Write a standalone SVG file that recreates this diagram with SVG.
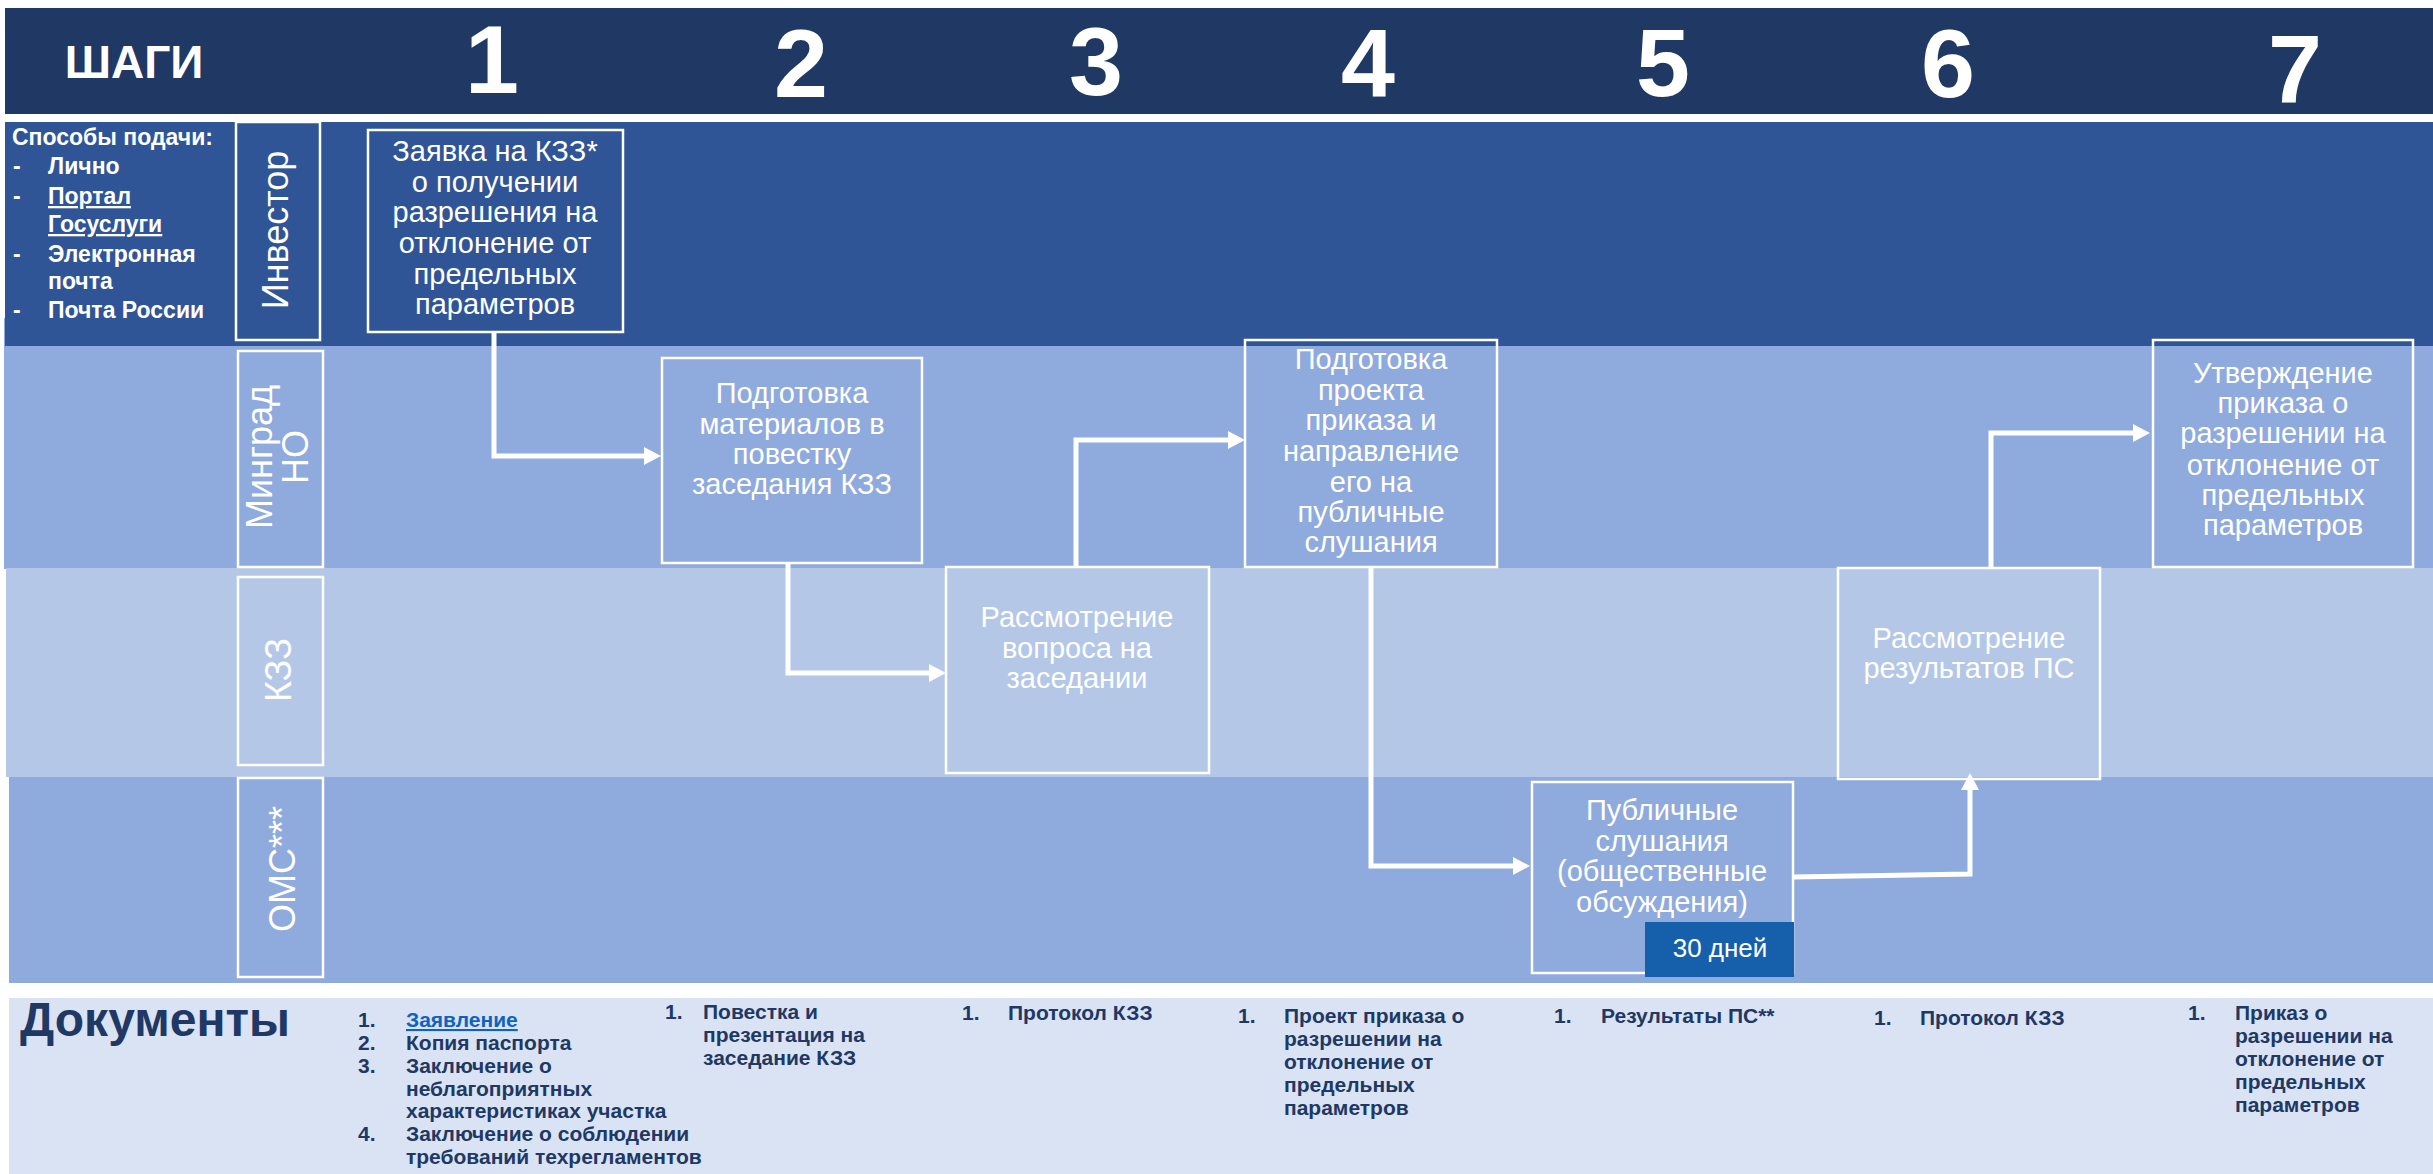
<svg xmlns="http://www.w3.org/2000/svg" width="2433" height="1174" viewBox="0 0 2433 1174">
  <defs>
    <style>
      .lane-inv { fill: #2F5597; }
      .lane-mid { fill: #8FAADC; }
      .lane-light { fill: #B4C7E7; }
      .hdr { fill: #203864; }
      .docs { fill: #DAE3F3; }
      .node { fill: none; stroke: #FFFFFF; stroke-width: 2.5; }
      .lbl { fill: none; stroke: #FFFFFF; stroke-width: 2.5; }
      .nt { font-family: "Liberation Sans", Arial, sans-serif; font-size: 29px; fill: #FFFFFF; text-anchor: middle; }
      .lt { font-family: "Liberation Sans", Arial, sans-serif; font-size: 36px; fill: #FFFFFF; text-anchor: middle; }
      .st { font-family: "Liberation Sans", Arial, sans-serif; font-size: 97px; font-weight: bold; fill: #FFFFFF; text-anchor: middle; }
      .wt { font-family: "Liberation Sans", Arial, sans-serif; font-size: 23px; font-weight: bold; fill: #FFFFFF; }
      .dt { font-family: "Liberation Sans", Arial, sans-serif; font-size: 21px; font-weight: bold; fill: #203864; }
      .link { fill: #0F63C0; text-decoration: underline; }
      .conn { fill: none; stroke: #FFFFFF; stroke-width: 5; marker-end: url(#arr); }
    </style>
    <marker id="arr" viewBox="0 0 17 18" refX="0" refY="9" markerWidth="17" markerHeight="18" markerUnits="userSpaceOnUse" orient="auto">
      <path d="M0,0 L17,9 L0,18 Z" fill="#FFFFFF"/>
    </marker>
  </defs>

  <rect width="2433" height="1174" fill="#FFFFFF"/>

  <!-- header -->
  <g id="header">
    <rect class="hdr" x="5" y="8" width="2428" height="106"/>
    <text x="134" y="78" font-family="Liberation Sans, Arial, sans-serif" font-size="46" font-weight="bold" fill="#FFFFFF" text-anchor="middle">ШАГИ</text>
    <text class="st" x="492" y="93">1</text>
    <text class="st" x="801" y="97">2</text>
    <text class="st" x="1096" y="95">3</text>
    <text class="st" x="1368" y="97">4</text>
    <text class="st" x="1663" y="96">5</text>
    <text class="st" x="1948" y="97">6</text>
    <text class="st" x="2295" y="103">7</text>
  </g>

  <!-- lanes -->
  <g id="lanes">
    <rect class="lane-mid" x="4" y="318" width="2429" height="251"/>
    <rect class="lane-inv" x="5" y="122" width="2428" height="224"/>
    <rect class="lane-light" x="6" y="568" width="2427" height="209"/>
    <rect class="lane-mid" x="9" y="777" width="2424" height="206"/>
    <rect class="docs" x="9" y="998" width="2424" height="176"/>
  </g>

  <!-- submission methods -->
  <g id="submission">
    <text class="wt" x="12" y="145">Способы подачи:</text>
    <text class="wt" x="13" y="174">-</text><text class="wt" x="48" y="174">Лично</text>
    <text class="wt" x="13" y="204">-</text><text class="wt" x="48" y="204" text-decoration="underline">Портал</text>
    <text class="wt" x="48" y="232" text-decoration="underline">Госуслуги</text>
    <text class="wt" x="13" y="262">-</text><text class="wt" x="48" y="262">Электронная</text>
    <text class="wt" x="48" y="289">почта</text>
    <text class="wt" x="13" y="318">-</text><text class="wt" x="48" y="318">Почта России</text>
  </g>

  <!-- lane labels -->
  <g id="label-investor">
    <rect class="lbl" x="236" y="122" width="84" height="218"/>
    <text class="lt" x="288" y="230" transform="rotate(-90 288 230)">Инвестор</text>
  </g>
  <g id="label-mingrad">
    <rect class="lbl" x="238" y="351" width="85" height="216"/>
    <text class="lt" x="272" y="457" transform="rotate(-90 272 457)">Минград</text>
    <text class="lt" x="308" y="457" transform="rotate(-90 308 457)">НО</text>
  </g>
  <g id="label-kzz">
    <rect class="lbl" x="238" y="577" width="85" height="188"/>
    <text class="lt" x="291" y="670" transform="rotate(-90 291 670)">КЗЗ</text>
  </g>
  <g id="label-omc">
    <rect class="lbl" x="238" y="778" width="85" height="199"/>
    <text class="lt" x="295" y="869" transform="rotate(-90 295 869)">ОМС***</text>
  </g>

  <!-- nodes -->
  <g id="node-1">
    <rect class="node" x="368" y="130" width="255" height="202"/>
    <text class="nt" x="495" y="161">Заявка на КЗЗ*</text>
    <text class="nt" x="495" y="192">о получении</text>
    <text class="nt" x="495" y="222">разрешения на</text>
    <text class="nt" x="495" y="253">отклонение от</text>
    <text class="nt" x="495" y="284">предельных</text>
    <text class="nt" x="495" y="314">параметров</text>
  </g>
  <g id="node-2">
    <rect class="node" x="662" y="358" width="260" height="205"/>
    <text class="nt" x="792" y="403">Подготовка</text>
    <text class="nt" x="792" y="434">материалов в</text>
    <text class="nt" x="792" y="464">повестку</text>
    <text class="nt" x="792" y="494">заседания КЗЗ</text>
  </g>
  <g id="node-3">
    <rect class="node" x="946" y="567" width="263" height="206"/>
    <text class="nt" x="1077" y="627">Рассмотрение</text>
    <text class="nt" x="1077" y="658">вопроса на</text>
    <text class="nt" x="1077" y="688">заседании</text>
  </g>
  <g id="node-4">
    <rect class="node" x="1245" y="340" width="252" height="227"/>
    <text class="nt" x="1371" y="369">Подготовка</text>
    <text class="nt" x="1371" y="400">проекта</text>
    <text class="nt" x="1371" y="430">приказа и</text>
    <text class="nt" x="1371" y="461">направление</text>
    <text class="nt" x="1371" y="492">его на</text>
    <text class="nt" x="1371" y="522">публичные</text>
    <text class="nt" x="1371" y="552">слушания</text>
  </g>
  <g id="node-5">
    <rect class="node" x="1838" y="568" width="262" height="211"/>
    <text class="nt" x="1969" y="648">Рассмотрение</text>
    <text class="nt" x="1969" y="678">результатов ПС</text>
  </g>
  <g id="node-6">
    <rect class="node" x="2153" y="340" width="260" height="227"/>
    <text class="nt" x="2283" y="383">Утверждение</text>
    <text class="nt" x="2283" y="413">приказа о</text>
    <text class="nt" x="2283" y="443">разрешении на</text>
    <text class="nt" x="2283" y="475">отклонение от</text>
    <text class="nt" x="2283" y="505">предельных</text>
    <text class="nt" x="2283" y="535">параметров</text>
  </g>
  <g id="node-7">
    <rect class="node" x="1532" y="782" width="261" height="191"/>
    <text class="nt" x="1662" y="820">Публичные</text>
    <text class="nt" x="1662" y="851">слушания</text>
    <text class="nt" x="1662" y="881">(общественные</text>
    <text class="nt" x="1662" y="912">обсуждения)</text>
    <rect x="1645" y="922" width="149" height="55" fill="#155FAB"/>
    <text x="1720" y="957" font-family="Liberation Sans, Arial, sans-serif" font-size="26" fill="#FFFFFF" text-anchor="middle">30 дней</text>
  </g>

  <!-- connectors -->
  <g id="connectors">
    <path class="conn" d="M494,333 V456 H644"/>
    <path class="conn" d="M788,563 V673 H929"/>
    <path class="conn" d="M1076,567 V440 H1228"/>
    <path class="conn" d="M1371,567 V866 H1513"/>
    <path class="conn" d="M1793,877 L1970,874 V790"/>
    <path class="conn" d="M1991,568 V433 H2133"/>
  </g>

  <!-- documents -->
  <g id="documents">
    <text x="20" y="1036" font-family="Liberation Sans, Arial, sans-serif" font-size="48" font-weight="bold" fill="#203864">Документы</text>

    <text class="dt" x="358" y="1027">1.</text><text class="dt link" x="406" y="1027">Заявление</text>
    <text class="dt" x="358" y="1050">2.</text><text class="dt" x="406" y="1050">Копия паспорта</text>
    <text class="dt" x="358" y="1073">3.</text><text class="dt" x="406" y="1073">Заключение о</text>
    <text class="dt" x="406" y="1096">неблагоприятных</text>
    <text class="dt" x="406" y="1118">характеристиках участка</text>
    <text class="dt" x="358" y="1141">4.</text><text class="dt" x="406" y="1141">Заключение о соблюдении</text>
    <text class="dt" x="406" y="1164">требований техрегламентов</text>

    <text class="dt" x="665" y="1019">1.</text>
    <text class="dt" x="703" y="1019">Повестка и</text>
    <text class="dt" x="703" y="1042">презентация на</text>
    <text class="dt" x="703" y="1065">заседание КЗЗ</text>

    <text class="dt" x="962" y="1020">1.</text>
    <text class="dt" x="1008" y="1020">Протокол КЗЗ</text>

    <text class="dt" x="1238" y="1023">1.</text>
    <text class="dt" x="1284" y="1023">Проект приказа о</text>
    <text class="dt" x="1284" y="1046">разрешении на</text>
    <text class="dt" x="1284" y="1069">отклонение от</text>
    <text class="dt" x="1284" y="1092">предельных</text>
    <text class="dt" x="1284" y="1115">параметров</text>

    <text class="dt" x="1554" y="1023">1.</text>
    <text class="dt" x="1601" y="1023">Результаты ПС**</text>

    <text class="dt" x="1874" y="1025">1.</text>
    <text class="dt" x="1920" y="1025">Протокол КЗЗ</text>

    <text class="dt" x="2188" y="1020">1.</text>
    <text class="dt" x="2235" y="1020">Приказ о</text>
    <text class="dt" x="2235" y="1043">разрешении на</text>
    <text class="dt" x="2235" y="1066">отклонение от</text>
    <text class="dt" x="2235" y="1089">предельных</text>
    <text class="dt" x="2235" y="1112">параметров</text>
  </g>
</svg>
